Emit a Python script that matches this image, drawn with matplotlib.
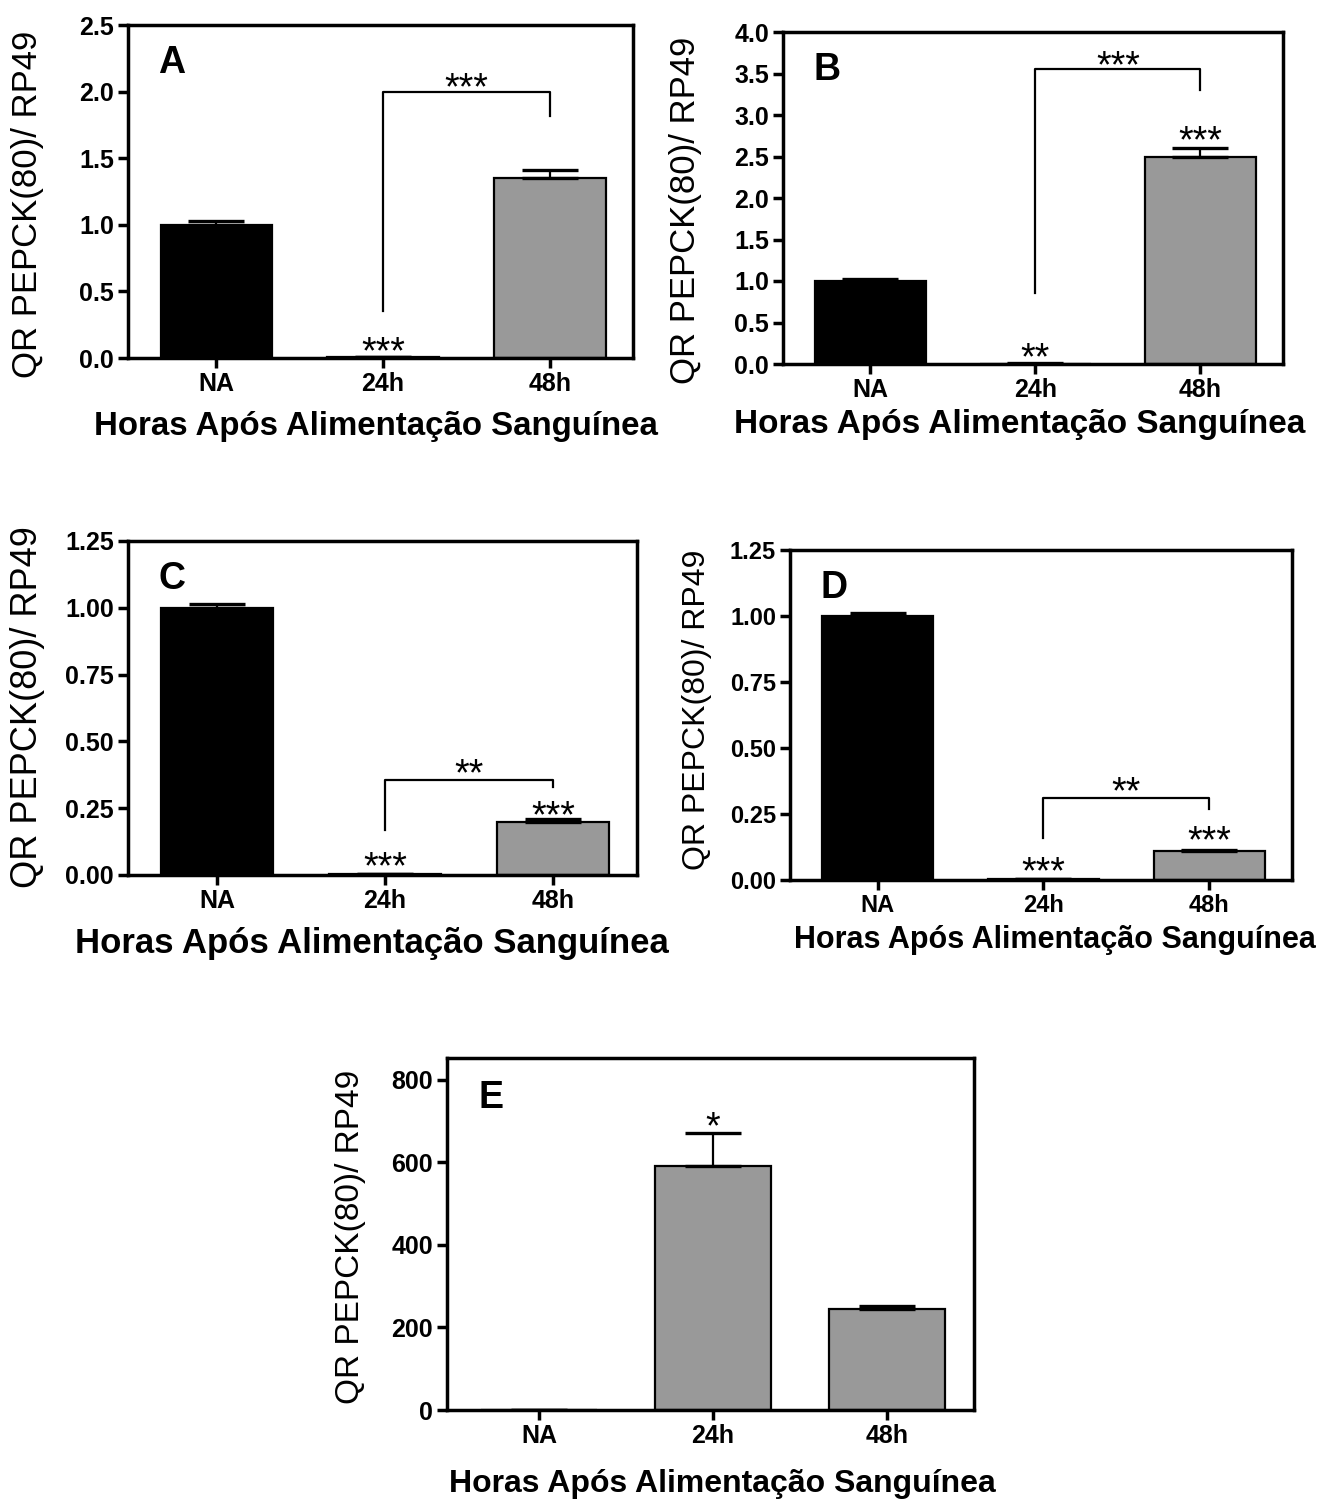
import matplotlib
matplotlib.use("Agg")
import matplotlib.pyplot as plt
import matplotlib.ticker as ticker

# ── Data ─────────────────────────────────────────────────────────
groups = ["NA", "24h", "48h"]

a_vals = [1.0, 0.005, 1.35]
a_err = [0.03, 0.002, 0.06]
b_vals = [1.0, 0.005, 2.5]
b_err = [0.03, 0.002, 0.10]
c_vals = [1.0, 0.002, 0.20]
c_err = [0.015, 0.001, 0.008]
d_vals = [1.0, 0.002, 0.11]
d_err = [0.012, 0.001, 0.005]
e_vals = [1.0, 592, 245]
e_err = [0.1, 80, 8]

# significance marks: (group index, y centre, text)
a_stars = [(1, 0.09, "***")]
b_stars = [(1, 0.145, "**"), (2, 2.75, "***")]
c_stars = [(1, 0.05, "***"), (2, 0.243, "***")]
d_stars = [(1, 0.05, "***"), (2, 0.17, "***")]
e_stars = [(1, 700, "*")]

# brackets 24h -> 48h: (left foot, top, right foot, label y, label)
a_bracket = (0.35, 2.0, 1.82, 2.07, "***")
b_bracket = (0.85, 3.55, 3.30, 3.66, "***")
c_bracket = (0.17, 0.355, 0.33, 0.40, "**")
d_bracket = (0.16, 0.31, 0.27, 0.356, "**")

# ── Styling ──────────────────────────────────────────────────────
W, H = 1323, 1501
FONT = "Liberation Sans"
BLACK = "#000000"
GREY = "#999999"
SPINE_W = 2.5
STAR_SIZE = 27

plt.rcParams.update({
    "font.family": FONT,
    "axes.linewidth": SPINE_W,
})

fig = plt.figure(figsize=(W / 100, H / 100), dpi=100)


def px_rect(left, top, right, bottom):
    return [left / W, 1 - bottom / H, (right - left) / W, (bottom - top) / H]


def fig_text(x, y, s, **kw):
    fig.text(x / W, 1 - y / H, s, ha="center", va="center", **kw)


def star(ax, x, y, s):
    ax.annotate(s, xy=(x, y), xytext=(0, -0.45 * STAR_SIZE), textcoords="offset points",
                ha="center", va="baseline", fontsize=STAR_SIZE)


def panel(rect, vals, errs, colors, ymax, yticks, fmt, letter, stars, bracket=None,
          tick_size=18):
    ax = fig.add_axes(px_rect(*rect))
    x = list(range(len(groups)))
    ax.bar(x, vals, width=0.67, color=colors, edgecolor=BLACK, linewidth=1.6,
           yerr=[[0] * len(errs), errs], capsize=20,
           error_kw={"elinewidth": 1.6, "capthick": 2.4, "ecolor": BLACK})
    ax.set_xlim(-0.53, 2.5)
    ax.set_ylim(0, ymax)
    ax.set_xticks(x)
    ax.set_xticklabels(groups)
    ax.set_yticks(yticks)
    ax.yaxis.set_major_formatter(ticker.FormatStrFormatter(fmt))
    ax.tick_params(direction="out", length=7, width=SPINE_W, labelsize=tick_size, pad=3)
    for lab in ax.get_xticklabels() + ax.get_yticklabels():
        lab.set_fontweight("bold")
    ax.text(0.06, 0.885, letter, transform=ax.transAxes, fontsize=27,
            fontweight="bold", va="center", ha="left")
    for gi, yv, s in stars:
        star(ax, gi, yv, s)
    if bracket:
        foot_l, top, foot_r, ly, lab = bracket
        ax.plot([1, 1, 2, 2], [foot_l, top, top, foot_r], color=BLACK, lw=1.6)
        star(ax, 1.5, ly, lab)
    return ax


two = [BLACK, GREY, GREY]

panel((128, 25, 633, 358), a_vals, a_err, two, 2.5, [0, 0.5, 1.0, 1.5, 2.0, 2.5],
      "%.1f", "A", a_stars, a_bracket)
panel((783, 32, 1283, 364), b_vals, b_err, two, 4.0,
      [0, 0.5, 1.0, 1.5, 2.0, 2.5, 3.0, 3.5, 4.0], "%.1f", "B", b_stars, b_bracket)
panel((128, 541, 637, 875), c_vals, c_err, two, 1.25, [0, 0.25, 0.5, 0.75, 1.0, 1.25],
      "%.2f", "C", c_stars, c_bracket)
panel((790, 550, 1292, 880), d_vals, d_err, two, 1.25, [0, 0.25, 0.5, 0.75, 1.0, 1.25],
      "%.2f", "D", d_stars, d_bracket, tick_size=17)
panel((447, 1058, 974, 1410), e_vals, e_err, two, 853, [0, 200, 400, 600, 800],
      "%d", "E", e_stars)

# axis titles
YLAB = "QR PEPCK(80)/ RP49"
XLAB = "Horas Após Alimentação Sanguínea"
fig_text(28, 204, YLAB, rotation=90, fontsize=25)
fig_text(686, 210, YLAB, rotation=90, fontsize=25)
fig_text(28, 707, YLAB, rotation=90, fontsize=26)
fig_text(697, 710, YLAB, rotation=90, fontsize=23)
fig_text(350, 1237, YLAB, rotation=90, fontsize=24)

fig_text(376, 426, XLAB, fontsize=23.8, fontweight="bold")
fig_text(1020, 425, XLAB, fontsize=24, fontweight="bold")
fig_text(372, 943, XLAB, fontsize=25, fontweight="bold")
fig_text(1055, 940, XLAB, fontsize=22, fontweight="bold")
fig_text(722, 1484, XLAB, fontsize=23, fontweight="bold")

fig.savefig("out.png", dpi=100, facecolor="white")
